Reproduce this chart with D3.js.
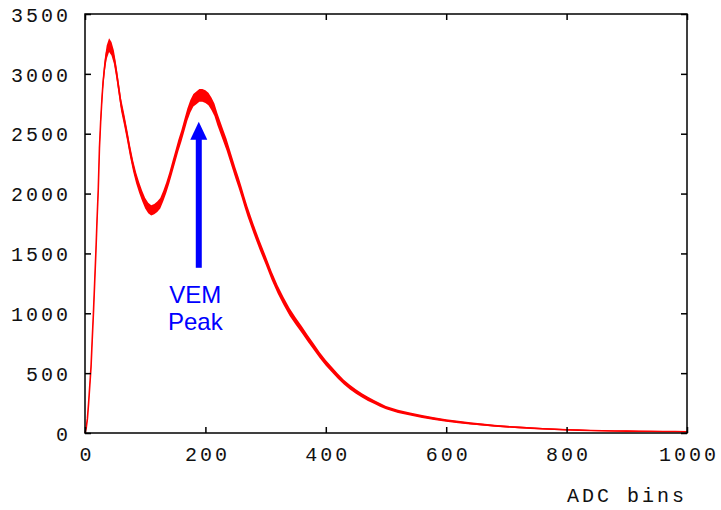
<!DOCTYPE html>
<html><head><meta charset="utf-8">
<script src="https://cdn.jsdelivr.net/npm/d3@7"></script>
<style>
html,body{margin:0;padding:0;background:#fff;}
svg{display:block;}
</style></head>
<body>
<svg id="chart" width="721" height="510"></svg>
<script>
// ---- data ----
const adcBins = [0,2,4,6,8,10,12,14,16,18,20,22,24,26,28,30,33,36,40,44,48,52,56,60,65,70,75,80,85,90,95,100,105,110,115,120,125,130,135,140,145,150,155,160,165,170,175,180,185,190,195,200,205,210,215,220,225,230,235,240,245,250,255,260,265,270,280,290,300,310,320,330,340,350,360,370,380,390,400,410,420,430,440,450,460,470,480,490,500,520,540,560,580,600,620,640,660,680,700,720,740,760,780,800,820,840,860,880,900,920,940,960,980,1000];
const counts  = [0,40,120,250,400,550,780,1000,1250,1500,1780,2030,2380,2600,2780,2930,3080,3180,3240,3210,3140,3020,2880,2740,2620,2490,2350,2230,2130,2050,1980,1920,1880,1860,1870,1890,1920,1980,2050,2130,2220,2310,2400,2480,2570,2660,2730,2780,2800,2820,2820,2810,2790,2750,2700,2620,2550,2480,2410,2330,2250,2170,2095,2015,1930,1850,1705,1570,1445,1315,1200,1100,1010,935,865,790,720,650,585,530,475,425,383,347,315,285,260,235,212,180,158,138,120,104,92,80,70,61,53,47,41,36,31,27,24,21,19,17,16,15,14,13,12,11];
const xTicks = [0,200,400,600,800,1000];
const yTicks = [0,500,1000,1500,2000,2500,3000,3500];
const xLabel = "ADC bins";
const annotLines = ["VEM","Peak"];
const arrowX = 189, arrowFrom = 1380, arrowTo = 2600;

// ---- layout ----
const L = 85, R = 687, T = 14, B = 433;
const svg = d3.select("#chart");
const x = d3.scaleLinear().domain([0,1000]).range([L,R]);
const y = d3.scaleLinear().domain([0,3500]).range([B,T]);
const pts = adcBins.map((b,i)=>[b,counts[i]]);

// visual thickness of the noisy histogram
const band = d3.area().x(d=>x(d[0]))
  .y0(d=>y(Math.max(0,d[1]-1.0*Math.sqrt(d[1]))))
  .y1(d=>y(d[1]+1.0*Math.sqrt(d[1])));
svg.append("path").datum(pts).attr("d",band).attr("fill","#ff0000");
svg.append("path").datum(pts)
  .attr("d",d3.line().x(d=>x(d[0])).y(d=>y(d[1])))
  .attr("fill","none").attr("stroke","#ff0000").attr("stroke-width",1.6);

// frame + ticks
const fontCss = "font-family:'Liberation Mono','Courier New',monospace;font-size:20px;letter-spacing:3px;";
const gx = svg.append("g").attr("transform",`translate(0,${B})`)
  .call(d3.axisBottom(x).tickValues(xTicks).tickSizeInner(-6).tickSizeOuter(0).tickPadding(14).tickFormat(d3.format("d")));
const gxt = svg.append("g").attr("transform",`translate(0,${T})`)
  .call(d3.axisTop(x).tickValues(xTicks).tickSizeInner(-6).tickSizeOuter(0).tickFormat(""));
const gy = svg.append("g").attr("transform",`translate(${L},0)`)
  .call(d3.axisLeft(y).tickValues(yTicks).tickSizeInner(-6).tickSizeOuter(0).tickPadding(14).tickFormat(d3.format("d")));
const gyr = svg.append("g").attr("transform",`translate(${R},0)`)
  .call(d3.axisRight(y).tickValues(yTicks).tickSizeInner(-6).tickSizeOuter(0).tickFormat(""));
[gx,gxt,gy,gyr].forEach(g=>{
  g.select(".domain").remove();
  g.selectAll(".tick line").attr("stroke","#000").attr("stroke-width",1.5);
  g.selectAll(".tick text").attr("style",fontCss).attr("fill","#111");
});
gx.selectAll(".tick text").attr("dx","1.5px");
gy.selectAll(".tick text").attr("dy","0.36em");
svg.append("rect").attr("x",L).attr("y",T).attr("width",R-L).attr("height",B-T)
  .attr("fill","none").attr("stroke","#000").attr("stroke-width",1.5);

svg.append("text").attr("x",687).attr("y",502).attr("text-anchor","end")
  .attr("style",fontCss).attr("fill","#111").text(xLabel);

// annotation arrow
const ax = x(arrowX), ay0 = y(arrowFrom), ay1 = y(arrowTo);
svg.append("rect").attr("x",ax-3).attr("y",ay1+17).attr("width",6).attr("height",ay0-ay1-17).attr("fill","#0000ff");
svg.append("path").attr("d",`M${ax},${ay1} L${ax-8.5},${ay1+18} L${ax+8.5},${ay1+18} Z`).attr("fill","#0000ff");
svg.selectAll("text.ann").data(annotLines).enter().append("text").attr("class","ann")
  .attr("x",ax-3.5).attr("y",(d,i)=>303+i*27).attr("text-anchor","middle")
  .attr("font-family","'Liberation Sans',Arial,sans-serif").attr("font-size",24)
  .attr("fill","#0000ff").text(d=>d);
</script>
</body></html>
